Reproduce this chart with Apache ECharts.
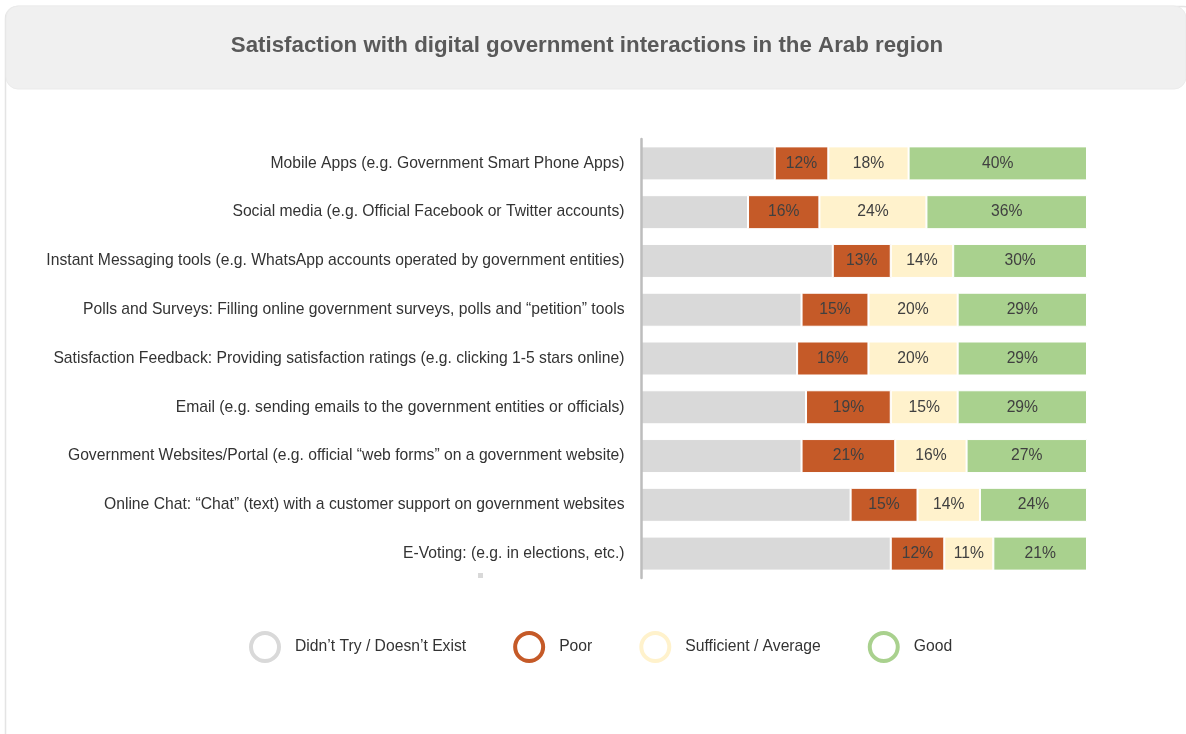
<!DOCTYPE html>
<html>
<head>
<meta charset="utf-8">
<script src="https://cdn.jsdelivr.net/npm/echarts@6/dist/echarts.min.js"></script>
<style>
html,body{margin:0;padding:0;background:#fff;}
#chart{width:1186px;height:734px;}
</style>
</head>
<body>
<div id="chart"></div>
<script>
const titleText = 'Satisfaction with digital government interactions in the Arab region';
const categories = [
  'Mobile Apps (e.g. Government Smart Phone Apps)',
  'Social media (e.g. Official Facebook or Twitter accounts)',
  'Instant Messaging tools (e.g. WhatsApp accounts operated by government entities)',
  'Polls and Surveys: Filling online government surveys, polls and \u201cpetition\u201d tools',
  'Satisfaction Feedback: Providing satisfaction ratings (e.g. clicking 1-5 stars online)',
  'Email (e.g. sending emails to the government entities or officials)',
  'Government Websites/Portal (e.g. official \u201cweb forms\u201d on a government website)',
  'Online Chat: \u201cChat\u201d (text) with a customer support on government websites',
  'E-Voting: (e.g. in elections, etc.)'
];
const seriesNames = ['Didn\u2019t Try / Doesn\u2019t Exist', 'Poor', 'Sufficient / Average', 'Good'];
const didntTry = [30, 24, 43, 36, 35, 37, 36, 47, 56];
const poor = [12, 16, 13, 15, 16, 19, 21, 15, 12];
const sufficient = [18, 24, 14, 20, 20, 15, 16, 14, 11];
const good = [40, 36, 30, 29, 29, 29, 27, 24, 21];
const colors = ['#d9d9d9', '#c55a28', '#fff2cc', '#a9d18e'];

const font = 'Helvetica, Arial, "Liberation Sans", sans-serif';
const chart = echarts.init(document.getElementById('chart'), null, {renderer: 'canvas'});

const values = [didntTry, poor, sufficient, good];
const series = values.map((d, i) => ({
  name: seriesNames[i],
  type: 'bar',
  stack: 'total',
  data: d,
  barWidth: 34,
  itemStyle: {color: colors[i], borderColor: '#ffffff', borderWidth: 1},
  label: {
    show: i > 0,
    position: 'inside',
    formatter: '{c}%',
    color: '#404040',
    fontSize: 15.7,
    fontFamily: font
  },
  emphasis: {disabled: true},
  animation: false
}));

chart.setOption({
  animation: false,
  color: colors,
  graphic: [
    {type: 'rect', z: -10, shape: {x: 5.5, y: 6.5, width: 1190, height: 740, r: 12}, style: {fill: '#ffffff', stroke: '#e4e4e4', lineWidth: 1.5}},
    {type: 'rect', z: -9, shape: {x: 6, y: 6, width: 1180, height: 83, r: 12}, style: {fill: '#f0f0f0', stroke: '#ebebeb', lineWidth: 1}},
    {type: 'text', z: 10, x: 587, y: 46, style: {text: titleText, fill: '#595959', font: 'bold 22.3px ' + font, align: 'center', verticalAlign: 'middle'}},
    {type: 'rect', z: 10, shape: {x: 478, y: 573, width: 5, height: 5}, style: {fill: '#d9d9d9'}}
  ],
  grid: {left: 641, right: 99, top: 139, bottom: 156, containLabel: false},
  xAxis: {
    type: 'value', min: 0, max: 100, show: false
  },
  yAxis: {
    type: 'category',
    data: categories,
    inverse: true,
    z: 10,
    offset: 1.5,
    axisLine: {show: true, lineStyle: {color: '#bdbdbd', width: 2.5}},
    axisTick: {show: false},
    axisLabel: {color: '#333333', fontSize: 15.7, fontFamily: font, margin: 15}
  },
  legend: {
    left: 249,
    top: 631,
    padding: 0,
    itemWidth: 50,
    itemHeight: 28,
    itemGap: 47,
    icon: 'circle',
    selectedMode: false,
    textStyle: {color: '#333333', fontSize: 15.7, fontFamily: font},
    data: seriesNames.map((n, i) => ({
      name: n,
      itemStyle: {color: '#ffffff', borderColor: colors[i], borderWidth: 4}
    }))
  },
  series: series
});
</script>
</body>
</html>
